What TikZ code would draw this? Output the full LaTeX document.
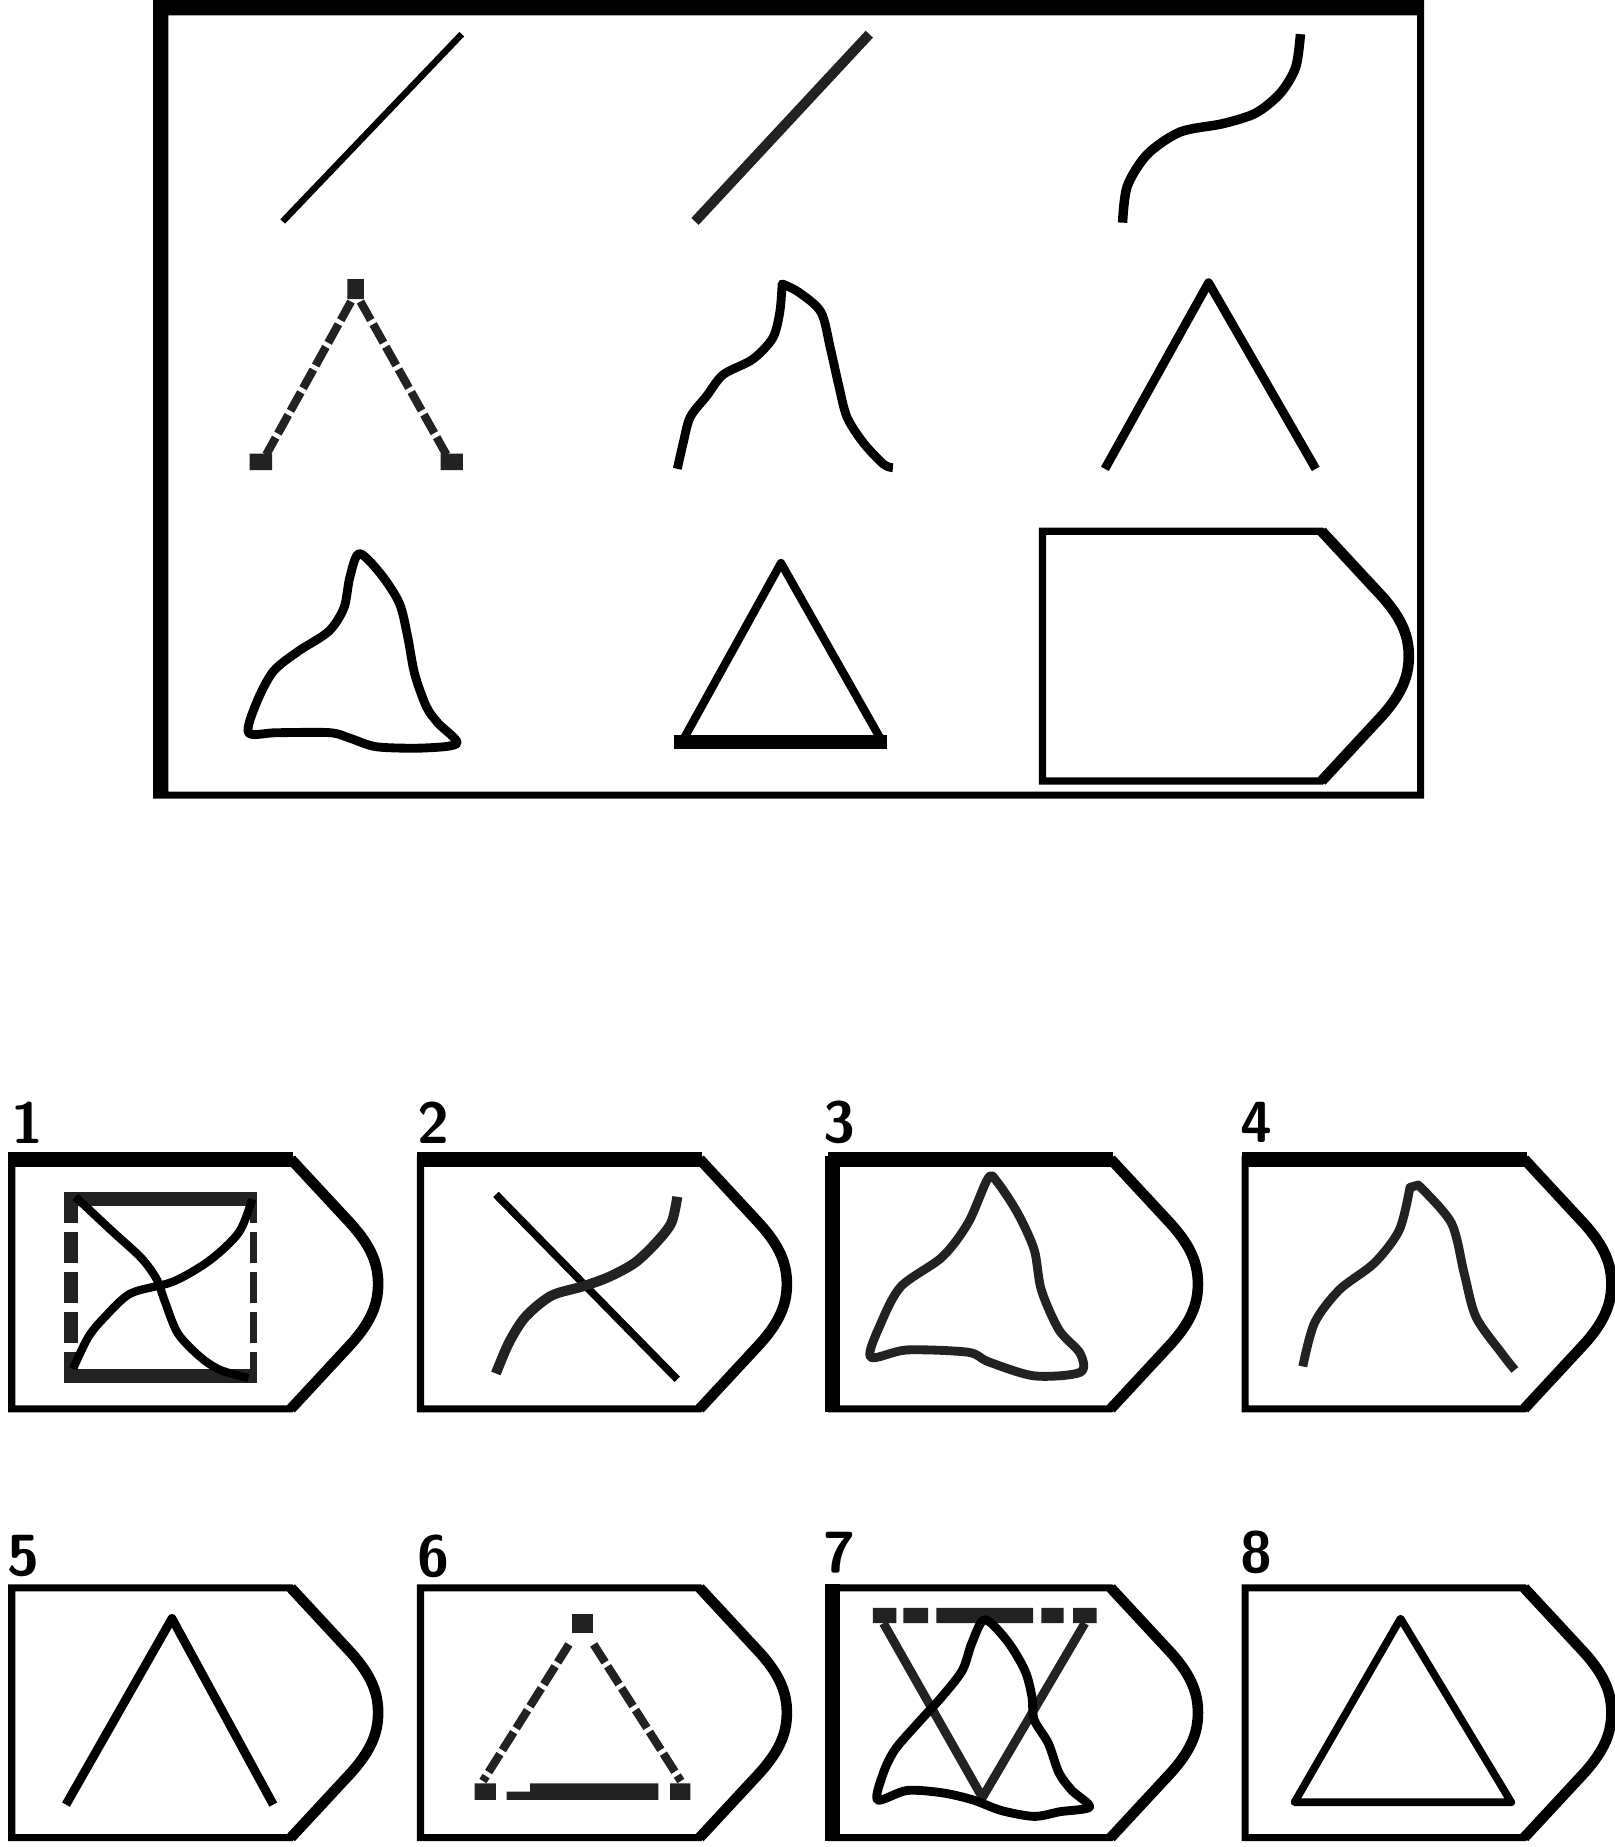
\documentclass[tikz,border=0pt]{standalone}
\usepackage{tikz}
\definecolor{inkgray}{HTML}{222222}
\tikzset{
    inkline/.style={draw=black, line width=0.065cm, line join=round},
    grayline/.style={draw=inkgray, line width=0.075cm, line join=round},
    dotline/.style={draw=inkgray, line width=0.07cm, dash pattern=on 0.18cm off 0.04cm},
    optlabel/.style={font=\fontsize{14}{14}\selectfont\bfseries\sffamily, inner sep=0pt},
    pics/optframe/.style={code={
        \draw[line width=0.06cm] (0,0) -- (237,0) -- (288,55) .. controls (306,75) and (311,90) .. (311,106) .. controls (311,122) and (306,137) .. (288,157) -- (237,212) -- (0,212) -- cycle;
        \draw[line width=0.09cm] (237,0) -- (288,55) .. controls (306,75) and (311,90) .. (311,106) .. controls (311,122) and (306,137) .. (288,157) -- (237,212);
    }}
}

\begin{document}
\begin{tikzpicture}[x=0.01cm, y=-0.01cm]
    \useasboundingbox (0,0) rectangle (1371,1568);

    % question matrix
    \fill[even odd rule] (130,0) rectangle (1209,678) (143,13) rectangle (1203,672);

    \draw[inkline, line width=0.055cm] (240,188) -- (392,29);
    \draw[grayline, line width=0.085cm] (590,188) -- (738,29);
    \draw[inkline, line width=0.08cm] plot[smooth] coordinates {(953,189) (957,158) (974,131) (1002,112) (1038,105) (1066,96) (1087,79) (1100,57) (1104,29)};

    \draw[dotline] (298,256) -- (226,386);
    \draw[dotline] (306,256) -- (379,386);
    \fill[inkgray] (295,237) rectangle (309,254) (212,385) rectangle (231,399) (374,385) rectangle (393,399);

    \draw[inkline, line width=0.075cm] plot[smooth] coordinates {(575,398) (580,376) (586,354) (600,336) (614,318) (639,305) (656,287) (662,265) (664,241)}
        -- plot[smooth] coordinates {(664,241) (678,248) (697,265) (705,296) (712,327) (719,354) (733,376) (750,394) (758,397)};
    \draw[inkline, line width=0.075cm] (938,398) -- (1026,240) -- (1117,398);

    \draw[inkline, line width=0.075cm] plot[smooth cycle, tension=0.5] coordinates {(305,470) (297,490) (292,516) (279,536) (253,553) (232,570) (218,596) (211,622) (235,622) (280,622) (298,627) (320,634) (360,635) (388,631) (372,614) (362,600) (352,572) (346,540) (339,512) (323,487)};
    \draw[inkline, line width=0.07cm] (663,478) -- (580,628) -- (748,628) -- cycle;
    \draw[line width=0.12cm] (572,630) -- (753,630);
    \pic at (885,451) {optframe};

    % answer options
    \foreach \bx/\by in {10/984, 357/984, 706/984, 1057/984, 10/1348, 357/1348, 706/1348, 1057/1348}
        \pic at (\bx,\by) {optframe};
    \foreach \bx in {10, 357, 706, 1057}
        \draw[line width=0.13cm] (\bx-3,984.5) -- (\bx+239,984.5);
    \draw[line width=0.13cm] (706.5,981) -- (706.5,1199) (706.5,1345) -- (706.5,1563);

    \foreach \lx/\ly/\n in {23/953/1, 368/953/2, 713/953/3, 1067/953/4, 20/1321/5, 368/1321/6, 713/1318/7, 1067/1318/8}
        \node[optlabel] (lab\n) at (\lx,\ly) {\n};

    % 1
    \draw[grayline, line width=0.12cm] (54,1018) -- (218,1018) (54,1168) -- (218,1168);
    \draw[grayline, line width=0.12cm, dash pattern=on 0.26cm off 0.08cm] (60,1012) -- (60,1174);
    \draw[grayline, line width=0.06cm, dash pattern=on 0.26cm off 0.08cm] (215,1012) -- (215,1174);
    \draw[inkline, line width=0.07cm] plot[smooth] coordinates {(64,1016) (95,1045) (120,1068) (133,1086) (140,1105) (151,1132) (170,1152) (187,1163) (211,1170)};
    \draw[inkline, line width=0.07cm] plot[smooth] coordinates {(62,1162) (75,1135) (89,1118) (111,1098) (147,1088) (178,1070) (203,1046) (214,1018)};

    % 2
    \draw[inkline] (421,1014) -- (575,1171);
    \draw[grayline, line width=0.085cm] plot[smooth] coordinates {(421,1166) (432,1140) (446,1118) (468,1100) (495,1092) (517,1084) (539,1072) (557,1055) (570,1038) (575,1016)};

    % 3
    \draw[grayline] plot[smooth cycle, tension=0.5] coordinates {(839,1000) (822,1038) (800,1067) (765,1092) (748,1123) (739,1152) (770,1146) (822,1148) (839,1156) (878,1168) (917,1165) (917,1149) (899,1129) (884,1095) (878,1061) (864,1030) (847,1004)};

    % 4
    \draw[grayline] plot[smooth] coordinates {(1106,1160) (1116,1123) (1137,1095) (1167,1072) (1188,1044) (1197,1008)}
        -- plot[smooth] coordinates {(1204,1006) (1232,1038) (1243,1081) (1253,1118) (1275,1149) (1286,1163)};

    % 5
    \draw[inkline, line width=0.075cm] (56,1532) -- (146,1374) -- (232,1532);

    % 6
    \fill[inkgray] (486,1370) rectangle (503,1386);
    \draw[dotline] (483,1396) -- (410,1512);
    \draw[dotline] (504,1396) -- (578,1512);
    \fill[inkgray] (403,1514) rectangle (421,1528) (569,1514) rectangle (586,1528) (450,1514) rectangle (559,1528) (430,1521) rectangle (450,1528);

    % 7
    \fill[inkgray] (741,1365) rectangle (761,1378) (767,1365) rectangle (788,1378) (795,1365) rectangle (877,1378) (884,1365) rectangle (903,1378) (911,1365) rectangle (931,1378);
    \draw[grayline] (750,1378) -- (834,1526) -- (921,1378);
    \draw[inkline, line width=0.075cm] plot[smooth cycle, tension=0.5] coordinates {(836,1375) (825,1395) (817,1418) (800,1440) (780,1462) (760,1485) (750,1505) (745,1528) (770,1520) (800,1522) (826,1528) (850,1537) (878,1542) (900,1538) (925,1534) (910,1520) (899,1505) (890,1480) (878,1460) (876,1440) (870,1418) (855,1393)};

    % 8
    \draw[inkline] (1189,1374) -- (1099,1530) -- (1283,1530) -- cycle;
\end{tikzpicture}
\end{document}
